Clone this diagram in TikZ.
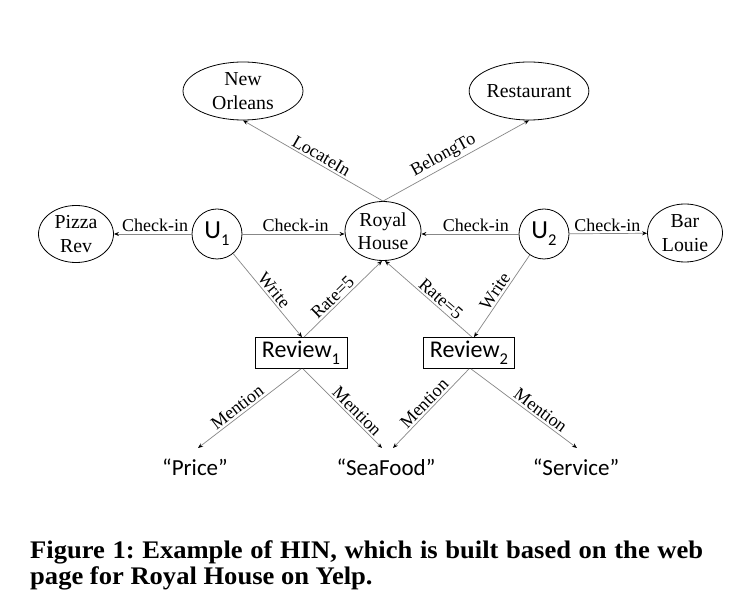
\documentclass[tikz,border=0pt]{standalone}
\usepackage{fontspec}
\setmainfont{Liberation Serif}
\newfontfamily\calfont{Carlito}
\newfontfamily\captfont[FakeStretch=1.05]{Liberation Serif}
\usetikzlibrary{arrows.meta,shapes.geometric}
\newcommand{\mysub}[1]{\raisebox{-0.28em}{\fontsize{16.5}{17}\selectfont #1}}
\frenchspacing
\begin{document}
\begin{tikzpicture}[x=1pt,y=-1pt,
  ent/.style={draw=black,line width=0.8pt,ellipse,inner sep=0pt,align=center,
    font=\fontsize{19.8}{23.5}\selectfont},
  usr/.style={draw=black,line width=0.8pt,circle,inner sep=0pt,minimum size=50pt,
    font=\calfont\fontsize{26}{28}\selectfont},
  rev/.style={draw=black,line width=0.8pt,rectangle,inner sep=0pt,minimum height=31pt,
    font=\calfont\fontsize{24}{27}\selectfont},
  word/.style={inner sep=0pt,font=\calfont\fontsize{23}{26}\selectfont},
  rel/.style={draw={rgb,255:red,135;green,135;blue,135},line width=0.7pt,
    -{Stealth[length=5pt,width=4pt,black]}},
  lab/.style={font=\fontsize{18}{20}\selectfont,inner sep=2pt,text=black},
  capt/.style={inner sep=0pt,anchor=base west,font=\captfont\bfseries\fontsize{25.3}{27}\selectfont,align=left}
]
\useasboundingbox (0,0) rectangle (745,609);
\fill[white] (0,0) rectangle (745,609);

% nodes
\node[ent,minimum width=120pt,minimum height=58pt] (no) at (243,91) {New\\Orleans};
\node[ent,minimum width=118pt,minimum height=58pt] (rest) at (529,91) {Restaurant};
\node[ent,minimum width=76pt,minimum height=59pt] (rh) at (383,231) {Royal\\House};
\node[ent,minimum width=75pt,minimum height=57pt] (pizza) at (76,234) {Pizza\\Rev};
\node[ent,minimum width=75pt,minimum height=58pt] (bar) at (685,233) {Bar\\Louie};
\node[usr] (u1) at (217,234) {U\mysub{1}};
\node[usr] (u2) at (544,234) {U\mysub{2}};
\node[rev,minimum width=92pt] (r1) at (301,353) {Review\mysub{1}};
\node[rev,minimum width=91pt] (r2) at (469,353) {Review\mysub{2}};
\node[word] (price) at (195,467) {“Price”};
\node[word] (sea) at (386,467) {“SeaFood”};
\node[word] (serv) at (576,467) {“Service”};
\coordinate (tprice) at (198,448);
\coordinate (tseaA) at (382,448);
\coordinate (tseaB) at (393,448);
\coordinate (tserv) at (577,448);

% edges
\draw[rel] (rh.north) -- node[lab,sloped,above,pos=0.47] {LocateIn} (no.south);
\draw[rel] (rh.north) -- node[lab,sloped,above,pos=0.45] {BelongTo} (rest.south);
\draw[rel] (u1) -- node[lab,above,pos=0.47] {Check-in} (pizza);
\draw[rel] (u1.east) -- node[lab,above,pos=0.52] {Check-in} (rh.west |- u1.east);
\draw[rel] (u2.west) -- node[lab,above,pos=0.44] {Check-in} (rh.east |- u2.west);
\draw[rel] (u2) -- node[lab,above,pos=0.49] {Check-in} (bar);
\draw[rel] (u1) -- node[lab,sloped,above,pos=0.5] {Write} ([xshift=1pt]r1.north);
\draw[rel] (u2) -- node[lab,sloped,above,pos=0.5] {Write} ([xshift=5pt]r2.north);
\draw[rel] ([xshift=3pt]r1.north) -- node[lab,sloped,above,pos=0.44] {Rate=5} ([xshift=-1pt]rh.south);
\draw[rel] ([xshift=3pt]r2.north) -- node[lab,sloped,above,pos=0.42] {Rate=5} ([xshift=2pt]rh.south);
\draw[rel] (r1.south) -- node[lab,sloped,above,pos=0.57] {Mention} (tprice);
\draw[rel] ([xshift=2pt]r1.south) -- node[lab,sloped,above,pos=0.61] {Mention} (tseaA);
\draw[rel] (r2.south) -- node[lab,sloped,above,pos=0.51] {Mention} (tseaB);
\draw[rel] ([xshift=2pt]r2.south) -- node[lab,sloped,above,pos=0.61] {Mention} (tserv);

% caption
\node[capt] (cap1) at (30,559) {\makebox[673pt][s]{Figure 1: Example of HIN, which is built based on the web}};
\node[capt] (cap2) at (30,585) {page for Royal House on Yelp.};
\end{tikzpicture}
\end{document}
